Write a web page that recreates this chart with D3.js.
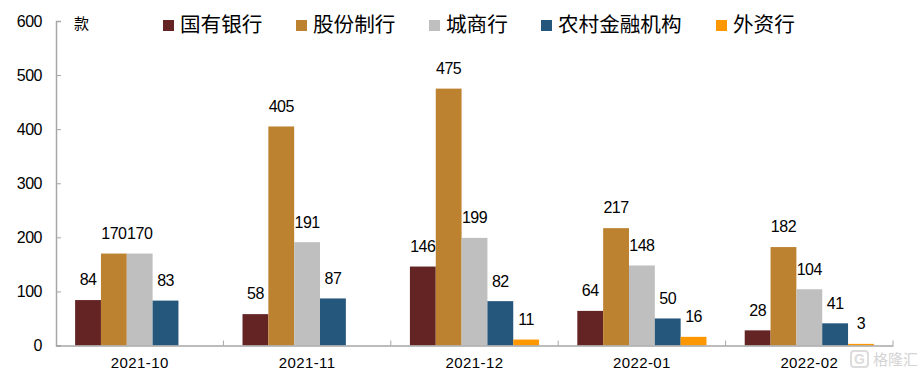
<!DOCTYPE html>
<html>
<head>
<meta charset="utf-8">
<script src="https://cdn.jsdelivr.net/npm/d3@7"></script>
<style>
body { margin: 0; background: #fff; }
text { font-family: "Liberation Sans", Arial, sans-serif; fill: #000; }
.cjk { font-family: "Noto Sans CJK SC", sans-serif; }
</style>
</head>
<body>
<svg width="924" height="375"></svg>
<script>
const width = 924, height = 375;
const svg = d3.select("svg");

const months = ["2021-10", "2021-11", "2021-12", "2022-01", "2022-02"];
const seriesNames = ["国有银行", "股份制行", "城商行", "农村金融机构", "外资行"];
const colors = ["#642424", "#BD8230", "#BFBFBF", "#25567C", "#FF9800"];
const stateBanks = [84, 58, 146, 64, 28];
const jointStock = [170, 405, 475, 217, 182];
const cityBanks = [170, 191, 199, 148, 104];
const ruralBanks = [83, 87, 82, 50, 41];
const foreignBanks = [null, null, 11, 16, 3]; // no bar in the first two months
const seriesValues = [stateBanks, jointStock, cityBanks, ruralBanks, foreignBanks];
const yTicks = [0, 100, 200, 300, 400, 500, 600];

const x0 = 56, x1 = 893, y0 = 345.5, y1 = 21;

const xScale = d3.scaleBand().domain(months).range([x0, x1]);
const inner = d3.scaleBand().domain(seriesNames)
    .range([0, xScale.bandwidth()]).paddingOuter(0.74).paddingInner(0);
const yScale = d3.scaleLinear().domain([0, 600]).range([y0, y1]);

// Bars
seriesNames.forEach((name, s) => {
    const rows = months.map((m, i) => ({ m, v: seriesValues[s][i] })).filter(d => d.v !== null);
    svg.append("g").selectAll("rect")
        .data(rows)
        .enter().append("rect")
        .attr("x", d => xScale(d.m) + inner(name))
        .attr("y", d => yScale(d.v))
        .attr("width", inner.bandwidth())
        .attr("height", d => y0 - yScale(d.v))
        .attr("fill", colors[s]);

    svg.append("g").selectAll("text")
        .data(rows)
        .enter().append("text")
        .attr("x", d => xScale(d.m) + inner(name) + inner.bandwidth() / 2)
        .attr("y", d => yScale(d.v) - 26)
        .attr("dy", "0.71em")
        .attr("text-anchor", "middle")
        .style("font-size", "16px")
        .style("letter-spacing", "-0.5px")
        .text(d => d.v);
});

// Axes
const axisColor = "#a6a6a6";
const yAxis = svg.append("g")
    .attr("transform", `translate(${x0},0)`)
    .call(d3.axisLeft(yScale).tickValues(yTicks).tickSize(-5));
yAxis.selectAll("text")
    .style("font-size", "16px")
    .style("letter-spacing", "-0.5px")
    .attr("x", -14)
    .attr("text-anchor", "end");

const xAxis = svg.append("g")
    .attr("transform", `translate(0,${y0})`)
    .call(d3.axisBottom(xScale).tickSize(0).tickPadding(12));
xAxis.selectAll("text").style("font-size", "15px").style("letter-spacing", "0.4px");

// axisBottom ticks sit mid-band, the separators sit on the band edges
svg.append("g").selectAll("line")
    .data(months)
    .enter().append("line")
    .attr("x1", d => xScale(d) + xScale.bandwidth())
    .attr("x2", d => xScale(d) + xScale.bandwidth())
    .attr("y1", y0)
    .attr("y2", y0 - 5)
    .attr("stroke", axisColor);

svg.selectAll(".domain").attr("stroke", axisColor).attr("stroke-width", 1.5);
yAxis.selectAll(".tick line").attr("stroke", axisColor);

// Unit label
svg.append("text")
    .attr("class", "cjk")
    .attr("x", 74)
    .attr("y", 29)
    .style("font-size", "15px")
    .text("款");

// Legend
const legendX = [163, 296, 429, 541, 716];
const legend = svg.selectAll(".legend")
    .data(seriesNames)
    .enter().append("g")
    .attr("class", "legend")
    .attr("transform", (d, i) => `translate(${legendX[i]},20)`);

legend.append("rect")
    .attr("width", 11)
    .attr("height", 11)
    .attr("fill", (d, i) => colors[i]);

legend.append("text")
    .attr("class", "cjk")
    .attr("x", 17)
    .attr("y", 12)
    .style("font-size", "20.6px")
    .text(d => d);

// Watermark
const mark = svg.append("g").attr("transform", "translate(850,350)");
mark.append("rect")
    .attr("x", 1).attr("y", 1)
    .attr("width", 17).attr("height", 16)
    .attr("rx", 3)
    .attr("fill", "none")
    .attr("stroke", "#dcdcdc")
    .attr("stroke-width", 2);
mark.append("text")
    .attr("x", 9.5).attr("y", 14)
    .attr("text-anchor", "middle")
    .style("font-size", "14px")
    .style("font-weight", "bold")
    .style("fill", "#dcdcdc")
    .text("G");
svg.append("text")
    .attr("class", "cjk")
    .attr("x", 873)
    .attr("y", 365)
    .style("font-size", "15px")
    .style("fill", "#d4d4d4")
    .text("格隆汇");
</script>
</body>
</html>
